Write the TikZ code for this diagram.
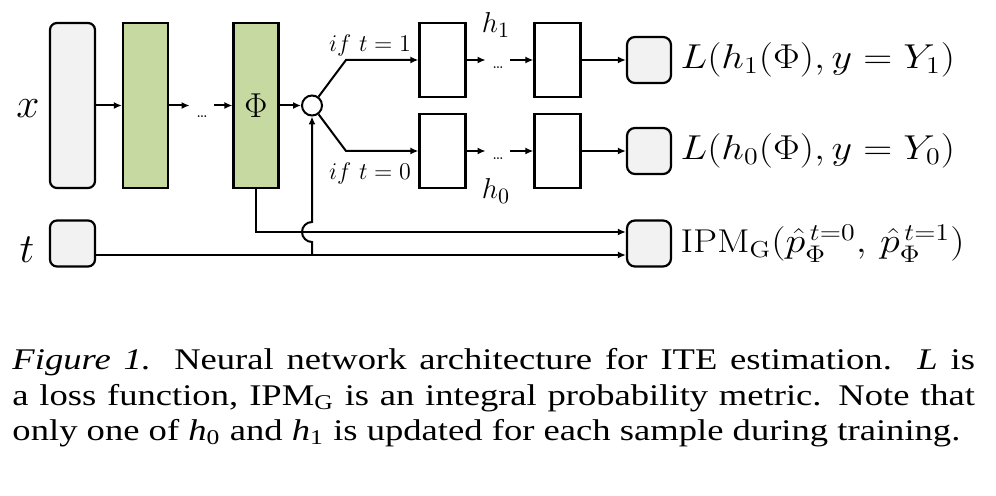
\documentclass[tikz,border=0pt]{standalone}
\usepackage{fontspec}
\usepackage{amsmath}
\usetikzlibrary{arrows.meta,calc,positioning}
\newfontfamily\capfont{Liberation Serif}
\definecolor{layergreen}{RGB}{197,217,160}
\definecolor{inputgray}{RGB}{242,242,242}

\begin{document}
\begin{tikzpicture}[
    x=0.5pt, y=-0.5pt,
    inbox/.style={draw, line width=1.1pt, rounded corners=3.5pt, fill=inputgray, minimum width=22.5pt, inner sep=0pt},
    layer/.style={draw, line width=1.1pt, fill=layergreen, minimum width=22.5pt, minimum height=82.5pt, inner sep=0pt},
    headbox/.style={draw, line width=1.1pt, fill=white, minimum width=23pt, minimum height=37pt, inner sep=0pt},
    outbox/.style={draw, line width=1.1pt, rounded corners=4pt, fill=inputgray, minimum width=22pt, minimum height=23pt, inner sep=0pt},
    joint/.style={draw, circle, line width=1pt, fill=white, minimum size=10pt, inner sep=0pt},
    dots/.style={inner sep=0pt, minimum width=12pt, font=\footnotesize},
    varlab/.style={font=\fontsize{22}{24}\selectfont, inner sep=0pt},
    cond/.style={font=\fontsize{12}{14}\selectfont, inner sep=0pt},
    hlab/.style={font=\fontsize{15}{17}\selectfont, inner sep=0pt},
    outlab/.style={font=\fontsize{16.5}{19}\selectfont, inner sep=0pt, anchor=west, transform shape, xscale=1.16},
    figcap/.style={font={\capfont\fontsize{15}{17.75}\selectfont}, text width=394.5pt, align=justify, inner sep=0pt, transform shape, xscale=1.22},
    arrow/.style={-{Latex[length=4pt, width=3.5pt]}, line width=1pt}
  ]
    \useasboundingbox (0,0) rectangle (996,496);

    \node[varlab] (xlab) at (28,109) {$x$};
    \node[varlab] (tlab) at (27,250) {$t$};
    \node[inbox, minimum height=82.5pt] (xin) at (72.5,105.5) {};
    \node[inbox, minimum height=23pt] (tin) at (72.5,243.5) {};
    \node[layer] (layone) at (145.5,105.5) {};
    \node[dots] (dotsA) at (202,117) {\ldots};
    \node[layer, font=\fontsize{16}{18}\selectfont] (phi) at (256,105.5) {$\Phi$};
    \node[joint] (split) at (312,105.5) {};

    \coordinate (bup) at (346,60);
    \coordinate (bdown) at (346,151);
    \node[cond] (ifone) at (370,46) {$if\ t = 1$};
    \node[cond] (ifzero) at (370,174) {$if\ t = 0$};

    \node[headbox] (honea) at (442.5,60) {};
    \node[headbox] (honeb) at (557.5,60) {};
    \node[headbox] (hzeroa) at (442.5,151) {};
    \node[headbox] (hzerob) at (557.5,151) {};
    \node[dots] (dotsB) at (498,68) {\ldots};
    \node[dots] (dotsC) at (498,159) {\ldots};
    \node[hlab] (hone) at (496,25) {$h_1$};
    \node[hlab] (hzero) at (496,191) {$h_0$};

    \node[outbox] (outone) at (649,60) {};
    \node[outbox] (outzero) at (649,151) {};
    \node[outbox] (outipm) at (649,243.5) {};
    \node[outlab, right=4pt of outone] (lossone) {$L(h_1(\Phi), y = Y_1)$};
    \node[outlab, right=4pt of outzero] (losszero) {$L(h_0(\Phi), y = Y_0)$};
    \node[outlab, right=4pt of outipm] (ipm) {$\mathrm{IPM}_{\mathrm{G}}(\hat{p}_{\Phi}^{\,t=0},\, \hat{p}_{\Phi}^{\,t=1})$};

    \coordinate (tjoin) at (312,255);

    \draw[arrow] (xin) -- (layone);
    \draw[arrow] (layone) -- (layone -| dotsA.west);
    \draw[arrow] (phi -| dotsA.east) -- (phi);
    \draw[arrow] (phi) -- (split);
    \draw[arrow] (split) -- (bup) -- (honea);
    \draw[arrow] (split) -- (bdown) -- (hzeroa);
    \draw[arrow] (honea) -- (honea -| dotsB.west);
    \draw[arrow] (honeb -| dotsB.east) -- (honeb);
    \draw[arrow] (hzeroa) -- (hzeroa -| dotsC.west);
    \draw[arrow] (hzerob -| dotsC.east) -- (hzerob);
    \draw[arrow] (honeb) -- (outone);
    \draw[arrow] (hzerob) -- (outzero);
    \draw[arrow] (phi.south) |- ($(outipm.west)+(0,-11.5)$);
    \draw[arrow] (tin.east |- tjoin) -- (tjoin -| outipm.west);
    \draw[arrow] (tjoin) -- ++(0,-13) arc[start angle=90, end angle=270, radius=10] -- (split);

    \node[figcap, anchor=north west] (cap) at (12,348) {\parfillskip=0pt
      \textit{Figure 1.} Neural network architecture for ITE estimation.\ \ \textit{L} is\linebreak
      a loss function, IPM\textsubscript{G} is an integral probability metric. Note that\linebreak
      only one of \textit{h}\textsubscript{0} and \textit{h}\textsubscript{1} is updated for each sample during training.};
  \end{tikzpicture}
\end{document}
